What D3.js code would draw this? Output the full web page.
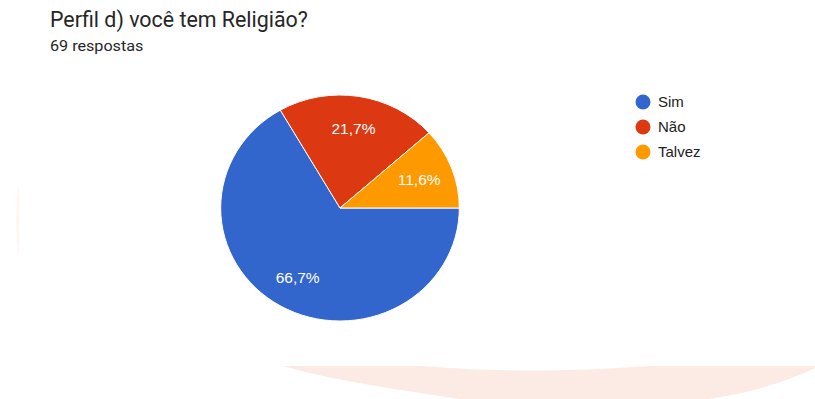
<!DOCTYPE html>
<html>
<head>
<meta charset="utf-8">
<script src="https://cdn.jsdelivr.net/npm/d3@7"></script>
<style>
  html, body { margin: 0; padding: 0; background: #fff; }
  svg { display: block; }
</style>
</head>
<body>
<svg id="chart" width="815" height="399"></svg>
<script>
const categories = ["Sim", "Não", "Talvez"];
const counts = [46, 15, 8];
const percentLabels = ["66,7%", "21,7%", "11,6%"];
const colors = ["#3366cc", "#dc3912", "#ff9900"];
const title = "Perfil d) você tem Religião?";
const subtitle = "69 respostas";

const svg = d3.select("#chart");

// decorative background shapes
svg.append("path")
  .attr("d", "M283,366 L420,366 C500,372 560,372 650,366 L815,366 L815,368 C780,385 740,395 690,402 L480,402 C400,390 330,380 283,366 Z")
  .attr("fill", "#fcebe4");
svg.append("path")
  .attr("d", "M19,185 C15,205 15,235 19,255 L19,185 Z")
  .attr("fill", "#fcebe4").attr("opacity", 0.45);

// title
svg.append("text")
  .attr("x", 50).attr("y", 27)
  .attr("font-family", "Roboto, Arial, sans-serif")
  .attr("font-size", 21.4)
  .attr("fill", "#262626")
  .text(title);
svg.append("text")
  .attr("transform", "translate(50,51) scale(1.056,1)")
  .attr("font-family", "Roboto, Arial, sans-serif")
  .attr("font-size", 15.3)
  .attr("fill", "#262626")
  .text(subtitle);

// pie
const cx = 340, cy = 208, r = 113, sx = 1.056;
const pie = d3.pie().sort(null).value(d => d)
  .startAngle(Math.PI / 2).endAngle(Math.PI / 2 + 2 * Math.PI);
const arcs = pie(counts);
const arc = d3.arc().innerRadius(0).outerRadius(r);
const labelArc = d3.arc().innerRadius(r * 0.71).outerRadius(r * 0.71);

const g = svg.append("g").attr("transform", `translate(${cx},${cy}) scale(${sx},1)`);
g.selectAll("path.slice").data(arcs).enter().append("path")
  .attr("class", "slice")
  .attr("d", arc)
  .attr("fill", (d, i) => colors[i])
  .attr("stroke", "#fff")
  .attr("stroke-width", 1)
  .attr("vector-effect", "non-scaling-stroke");

const lg = svg.append("g").attr("transform", `translate(${cx},${cy})`);
lg.selectAll("text").data(arcs).enter().append("text")
  .attr("x", d => labelArc.centroid(d)[0] * sx)
  .attr("y", d => labelArc.centroid(d)[1])
  .attr("dy", "0.36em")
  .attr("text-anchor", "middle")
  .attr("font-family", "Arial, 'Liberation Sans', sans-serif")
  .attr("font-size", 15.5)
  .attr("fill", "#fff")
  .text((d, i) => percentLabels[i]);

// legend
const legendY = d3.scalePoint().domain(categories).range([102, 152]);
const leg = svg.append("g");
const items = leg.selectAll("g").data(categories).enter().append("g")
  .attr("transform", d => `translate(643,${legendY(d)})`);
items.append("circle").attr("r", 7.5).attr("fill", (d, i) => colors[i]);
items.append("text")
  .attr("x", 15).attr("dy", "0.36em")
  .attr("font-family", "Arial, 'Liberation Sans', sans-serif")
  .attr("font-size", 15)
  .attr("fill", "#222")
  .text(d => d);
</script>
</body>
</html>
